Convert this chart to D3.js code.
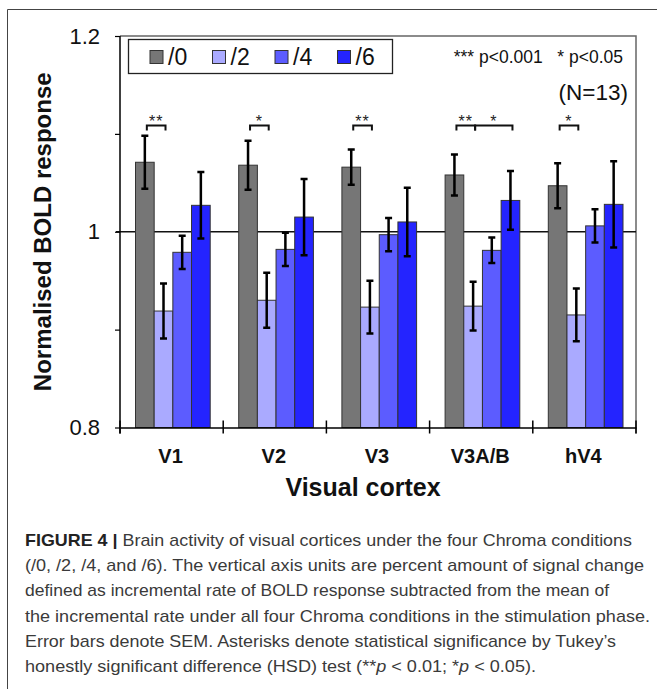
<!DOCTYPE html>
<html><head><meta charset="utf-8">
<script src="https://cdn.jsdelivr.net/npm/d3@7/dist/d3.min.js"></script>
<style>
html,body{margin:0;padding:0;background:#fff;}
svg{display:block;}
</style></head>
<body>
<svg id="chart" width="657" height="689"></svg>
<script>
// ---------- data ----------
const categories = ["V1", "V2", "V3", "V3A/B", "hV4"];
const series = ["/0", "/2", "/4", "/6"];
const seriesColors = ["#767676", "#aaaaff", "#5c5cff", "#2424ff"];
const values0 = [1.071, 1.068, 1.066, 1.058, 1.047];
const values2 = [0.919, 0.930, 0.923, 0.924, 0.915];
const values4 = [0.979, 0.982, 0.997, 0.981, 1.006];
const values6 = [1.027, 1.015, 1.010, 1.032, 1.028];
const sem0 = [0.027, 0.025, 0.018, 0.021, 0.023];
const sem2 = [0.028, 0.028, 0.027, 0.025, 0.027];
const sem4 = [0.017, 0.017, 0.017, 0.013, 0.017];
const sem6 = [0.034, 0.039, 0.035, 0.030, 0.044];
const yTicks = [0.8, 0.9, 1.0, 1.1, 1.2];
const yTickLabels = ["0.8", "", "1", "", "1.2"];
const sigCategory = ["V1", "V2", "V3", "V3A/B", "V3A/B", "hV4"];
const sigFrom = ["/0", "/0", "/0", "/0", "/2", "/0"];
const sigTo = ["/2", "/2", "/2", "/2", "/6", "/2"];
const sigLabel = ["**", "*", "**", "**", "*", "*"];
const captionLines = [
  "Brain activity of visual cortices under the four Chroma conditions",
  "(/0, /2, /4, and /6). The vertical axis units are percent amount of signal change",
  "defined as incremental rate of BOLD response subtracted from the mean of",
  "the incremental rate under all four Chroma conditions in the stimulation phase.",
  "Error bars denote SEM. Asterisks denote statistical significance by Tukey\u2019s",
  "honestly significant difference (HSD) test ("
];
const captionEnds = [632, 644, 609, 650, 616, 536];

const allValues = [values0, values2, values4, values6];
const allSem = [sem0, sem2, sem4, sem6];

// ---------- layout ----------
const svg = d3.select("#chart");
const L = 120, R = 636, T = 36, B = 427.5;
const y = d3.scaleLinear().domain([0.8, 1.2]).range([B, T]);
const x0 = d3.scaleBand().domain(categories).range([L, R]).padding(0);
const x1 = d3.scaleBand().domain(series).range([15.5, 15.5 + 74.7]).padding(0);
const color = d3.scaleOrdinal().domain(series).range(seriesColors);

// outer frame
svg.append("path").attr("d", "M7.5,689 V9.5 H657")
  .attr("fill", "none").attr("stroke", "#444").attr("stroke-width", 1);

// plot frame (top & right)
svg.append("path").attr("d", `M${L},${T} H${R} V${B + 6}`)
  .attr("fill", "none").attr("stroke", "#666").attr("stroke-width", 1.5);

// reference line at 1
svg.append("line").attr("x1", L - 4).attr("x2", R).attr("y1", y(1)).attr("y2", y(1))
  .attr("stroke", "#111").attr("stroke-width", 1.5);

// bars
const flat = [];
categories.forEach((c, ci) => series.forEach((s, si) => {
  flat.push({cat: c, ser: s, v: allValues[si][ci], e: allSem[si][ci]});
}));
svg.append("g").selectAll("rect").data(flat).join("rect")
  .attr("x", d => x0(d.cat) + x1(d.ser))
  .attr("width", x1.bandwidth())
  .attr("y", d => y(d.v))
  .attr("height", d => y(0.8) - y(d.v))
  .attr("fill", d => color(d.ser))
  .attr("stroke", "#333").attr("stroke-width", 1);

// error bars
const eg = svg.append("g").attr("stroke", "#000").attr("stroke-width", 2.5).attr("fill", "none");
flat.forEach(d => {
  const cx = x0(d.cat) + x1(d.ser) + x1.bandwidth() / 2;
  const y1 = y(d.v + d.e), y2 = y(d.v - d.e);
  eg.append("path").attr("d",
    `M${cx},${y1} V${y2} M${cx - 3.5},${y1} H${cx + 3.5} M${cx - 3.5},${y2} H${cx + 3.5}`);
});

// y axis
const yAxis = d3.axisLeft(y).tickValues(yTicks).tickSize(5)
  .tickFormat((d, i) => yTickLabels[i]);
const ya = svg.append("g").attr("transform", `translate(${L},0)`).call(yAxis);
ya.select(".domain").attr("d", `M0,${T} V${B + 6}`).attr("stroke", "#000").attr("stroke-width", 1.5);
ya.selectAll(".tick line").attr("stroke", "#000").attr("stroke-width", 1.2);
ya.selectAll(".tick text").attr("x", -20).attr("font-family", "Liberation Sans, Arial, sans-serif")
  .attr("font-size", 22).attr("fill", "#111");

// x axis
const xa = svg.append("g").attr("transform", `translate(0,${B})`)
  .call(d3.axisBottom(x0).tickSize(0).tickFormat(""));
xa.select(".domain").attr("stroke", "#000").attr("stroke-width", 1.5);
const bounds = categories.map(c => x0(c)).concat([x0(categories[categories.length - 1]) + x0.bandwidth()]);
xa.append("g").selectAll("line").data(bounds).join("line")
  .attr("x1", d => d).attr("x2", d => d).attr("y1", -7).attr("y2", 6)
  .attr("stroke", "#000").attr("stroke-width", 1.5);
xa.append("g").selectAll("text").data(categories).join("text")
  .attr("x", d => x0(d) + x0.bandwidth() / 2 - 1)
  .attr("y", 35.5)
  .attr("text-anchor", "middle")
  .attr("font-family", "Liberation Sans, Arial, sans-serif")
  .attr("font-weight", "bold").attr("font-size", 20).attr("fill", "#111")
  .text(d => d);

// axis titles
svg.append("text").attr("x", 363).attr("y", 495.5).attr("text-anchor", "middle")
  .attr("font-family", "Liberation Sans, Arial, sans-serif").attr("font-weight", "bold")
  .attr("font-size", 25).attr("fill", "#111").text("Visual cortex");
svg.append("text").attr("transform", `translate(51,${(T + B) / 2}) rotate(-90)`)
  .attr("text-anchor", "middle")
  .attr("font-family", "Liberation Sans, Arial, sans-serif").attr("font-weight", "bold")
  .attr("font-size", 24).attr("fill", "#111").text("Normalised BOLD response");

// legend
const lg = svg.append("g");
lg.append("rect").attr("x", 128.5).attr("y", 39.5).attr("width", 264).attr("height", 34)
  .attr("fill", "#fff").attr("stroke", "#222").attr("stroke-width", 1.3);
series.forEach((s, i) => {
  const gx = 150 + i * 62.5;
  lg.append("rect").attr("x", gx).attr("y", 50.5).attr("width", 13).attr("height", 13)
    .attr("fill", color(s)).attr("stroke", "#333").attr("stroke-width", 1);
  lg.append("text").attr("x", gx + 18).attr("y", 64.5)
    .attr("font-family", "Liberation Sans, Arial, sans-serif").attr("font-size", 23)
    .attr("fill", "#111").text(s);
});

// p-value note & N
svg.append("text").attr("x", 623).attr("y", 63).attr("text-anchor", "end")
  .attr("font-family", "Liberation Sans, Arial, sans-serif").attr("font-size", 17.5)
  .attr("fill", "#111").attr("xml:space", "preserve").text("*** p<0.001   * p<0.05");
svg.append("text").attr("x", 628).attr("y", 100).attr("text-anchor", "end")
  .attr("font-family", "Liberation Sans, Arial, sans-serif").attr("font-size", 22.5)
  .attr("fill", "#111").text("(N=13)");

// significance brackets
const sg = svg.append("g");
sigCategory.forEach((c, i) => {
  const xa1 = x0(c) + x1(sigFrom[i]) + x1.bandwidth() / 2 + 2;
  const xb1 = x0(c) + x1(sigTo[i]) + x1.bandwidth() / 2 + 2;
  sg.append("path").attr("d", `M${xa1},130.5 V125.5 H${xb1} V130.5`)
    .attr("fill", "none").attr("stroke", "#111").attr("stroke-width", 2);
  sg.append("text").attr("x", (xa1 + xb1) / 2).attr("y", 126.5)
    .attr("text-anchor", "middle").attr("font-family", "Liberation Sans, Arial, sans-serif")
    .attr("font-size", 16).attr("fill", "#222").attr("letter-spacing", 1).text(sigLabel[i]);
});

// caption
const capFont = "'Liberation Sans Narrow', 'Arial Narrow', 'Liberation Sans', sans-serif";
const cg = svg.append("g").attr("font-family", capFont).attr("font-size", 17).attr("fill", "#3a3a3a");
captionLines.forEach((line, i) => {
  const t = cg.append("text").attr("x", 25).attr("y", 546 + i * 25.2)
    .attr("textLength", captionEnds[i] - 25).attr("lengthAdjust", "spacingAndGlyphs");
  if (i === 0) {
    t.append("tspan").attr("font-weight", "bold").attr("fill", "#222").text("FIGURE 4 | ");
    t.append("tspan").text(line);
  } else if (i === captionLines.length - 1) {
    t.append("tspan").text(line + "**");
    t.append("tspan").attr("font-style", "italic").text("p");
    t.append("tspan").text(" < 0.01; *");
    t.append("tspan").attr("font-style", "italic").text("p");
    t.append("tspan").text(" < 0.05).");
  } else {
    t.text(line);
  }
});
</script>
</body></html>
